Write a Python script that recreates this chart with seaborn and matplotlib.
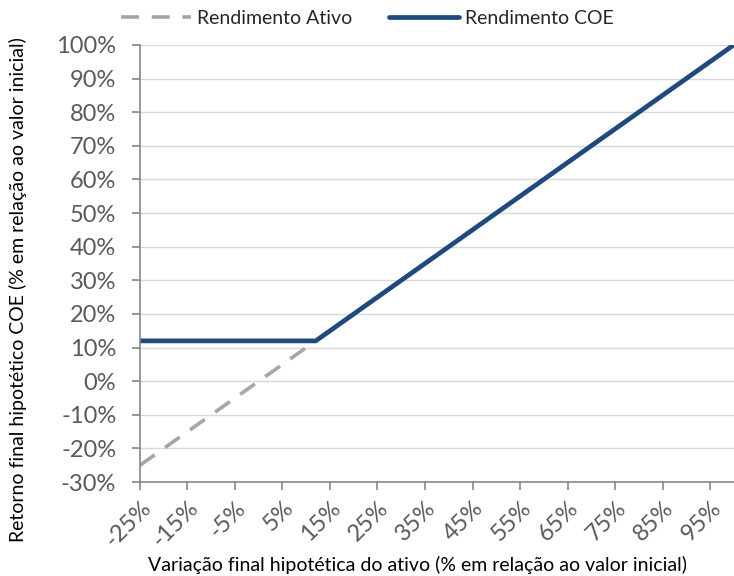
import pandas as pd
import matplotlib.pyplot as plt
import seaborn as sns
from matplotlib.ticker import FuncFormatter, MultipleLocator

# key points of the two payoff lines (% of initial value)
variacao = [-25, 12, 100]
rend_ativo = [-25, 12, 100]
rend_coe = [12, 12, 100]
x_ticks = [-25, -15, -5, 5, 15, 25, 35, 45, 55, 65, 75, 85, 95]

sns.set_style('white')
plt.rcParams['font.family'] = ['Lato', 'DejaVu Sans']

df = pd.DataFrame({'x': variacao, 'ativo': rend_ativo, 'coe': rend_coe})

fig = plt.figure(figsize=(7.34, 5.76), dpi=100)
ax = fig.add_axes([0.1907, 0.163, 0.809, 0.759])

grid_c = '#d9d9d9'
axis_c = '#868686'
txt_c = '#595959'

sns.lineplot(data=df, x='x', y='ativo', ax=ax, color='#a6a6a6', linewidth=2.6,
             linestyle=(0, (5, 3.5)), label='Rendimento Ativo')
sns.lineplot(data=df, x='x', y='coe', ax=ax, color='#1f4a7d', linewidth=3.4,
             label='Rendimento COE')

ax.set_xlim(-25, 100)
ax.set_ylim(-30, 100)
ax.yaxis.set_major_locator(MultipleLocator(10))
ax.set_xticks(x_ticks)
pct = FuncFormatter(lambda v, p: f'{v:.0f}%')
ax.xaxis.set_major_formatter(pct)
ax.yaxis.set_major_formatter(pct)
ax.grid(axis='y', color=grid_c, linewidth=1)
ax.set_axisbelow(True)

for s in ['top', 'right']:
    ax.spines[s].set_visible(False)
for s in ['left', 'bottom']:
    ax.spines[s].set_color(axis_c)
    ax.spines[s].set_linewidth(1.2)

ax.tick_params(axis='both', which='major', direction='out', length=6, width=1.2,
               color=axis_c, labelcolor=txt_c, labelsize=17, left=True, bottom=True)
ax.tick_params(axis='y', pad=11)
ax.tick_params(axis='x', pad=5)
for lbl in ax.get_xticklabels():
    lbl.set_rotation(45)
    lbl.set_ha('right')
    lbl.set_rotation_mode('anchor')

ax.set_xlabel('')
ax.set_ylabel('')
fig.text(0.569, 0.019, 'Variação final hipotética do ativo (% em relação ao valor inicial)',
         fontsize=14, color='black', ha='center', va='center')
fig.text(0.0245, 0.498, 'Retorno final hipotético COE (% em relação ao valor inicial)',
         fontsize=14, color='black', ha='center', va='center', rotation=90)

ax.legend(loc='center', bbox_to_anchor=(0.5, 0.968), bbox_transform=fig.transFigure,
          ncol=2, frameon=False, fontsize=14, handlelength=3.6, columnspacing=1.9,
          handletextpad=0.3, borderaxespad=0)

fig.savefig('out.png', dpi=100)
